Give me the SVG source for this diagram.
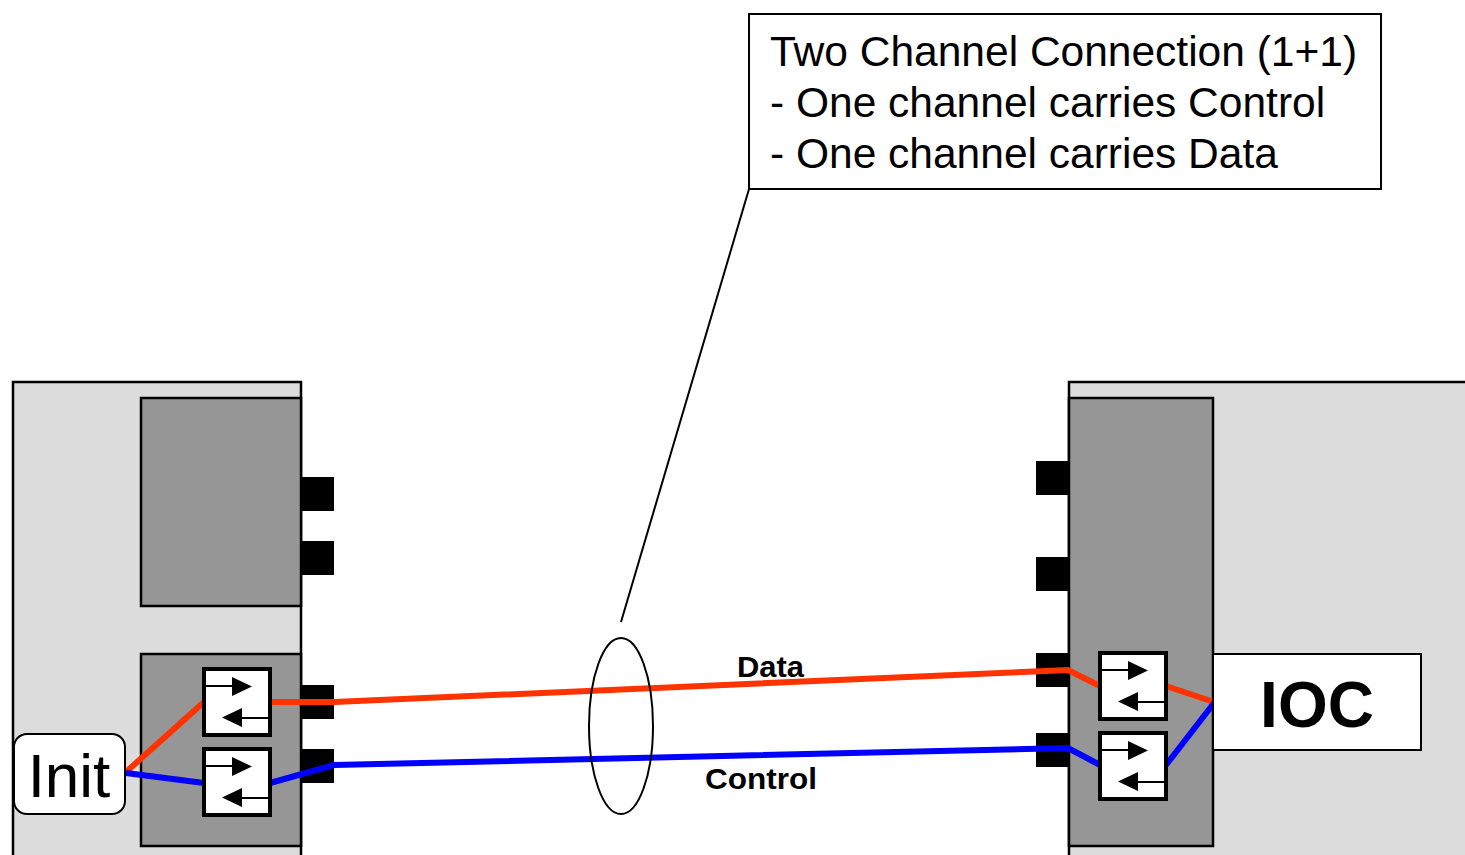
<svg xmlns="http://www.w3.org/2000/svg" width="1465" height="855" viewBox="0 0 1465 855">
  <style>
    .chassis { fill: #dcdcdc; stroke: #000; stroke-width: 2.5; }
    .card { fill: #969696; stroke: #000; stroke-width: 2.5; }
    .port { fill: #000; }
    .xcvr { fill: #fff; stroke: #000; stroke-width: 4; }
    .thin { stroke: #000; stroke-width: 2; fill: none; }
    .data { stroke: #ff3300; stroke-width: 6; fill: none; }
    .ctrl { stroke: #0000ff; stroke-width: 6; fill: none; }
    .label { font-family: "Liberation Sans", Arial, sans-serif; fill: #000; }
  </style>
  <defs>
    <!-- transceiver: square with transmit / receive arrows -->
    <g id="transceiver">
      <rect class="xcvr" x="0" y="0" width="66" height="66"/>
      <line x1="2" y1="17" x2="30" y2="17" stroke="#000" stroke-width="2"/>
      <polygon points="28,8 48,17.5 28,27" fill="#000"/>
      <line x1="36" y1="49" x2="64" y2="49" stroke="#000" stroke-width="2"/>
      <polygon points="38,39 18,48.5 38,58" fill="#000"/>
    </g>
  </defs>

  <rect width="1465" height="855" fill="#fff"/>

  <!-- left chassis -->
  <g id="left-chassis">
    <rect class="chassis" x="13" y="382" width="288" height="490"/>
    <rect class="card" x="141" y="398" width="160" height="208"/>
    <rect class="port" x="301" y="477" width="33" height="34"/>
    <rect class="port" x="301" y="541" width="33" height="34"/>
    <rect class="card" x="141" y="654" width="160" height="192"/>
    <rect class="port" x="301" y="685" width="33" height="34"/>
    <rect class="port" x="301" y="749" width="33" height="34"/>
  </g>

  <!-- right chassis -->
  <g id="right-chassis">
    <rect class="chassis" x="1069" y="382" width="420" height="490"/>
    <rect class="card" x="1069" y="398" width="144" height="448"/>
    <rect class="port" x="1036" y="461" width="33" height="34"/>
    <rect class="port" x="1036" y="557" width="33" height="34"/>
    <rect class="port" x="1036" y="653" width="33" height="34"/>
    <rect class="port" x="1036" y="733" width="33" height="34"/>
  </g>

  <!-- channel connectors -->
  <g id="connectors">
    <polyline class="data" points="126,772 204,702"/>
    <polyline class="data" points="270,702 334,702 1068,670 1100,686"/>
    <polyline class="data" points="1166,686 1214,702"/>
    <polyline class="ctrl" points="126,773 204,783"/>
    <polyline class="ctrl" points="270,783 334,765 1068,748 1100,765"/>
    <polyline class="ctrl" points="1166,765 1214,703"/>
    <line class="thin" x1="749" y1="189" x2="621" y2="622"/>
    <ellipse class="thin" cx="621" cy="726" rx="32" ry="88"/>
  </g>

  <g id="xcvr-left-data"><use href="#transceiver" x="204" y="669"/></g>
  <g id="xcvr-left-ctrl"><use href="#transceiver" x="204" y="749"/></g>
  <g id="xcvr-right-data"><use href="#transceiver" x="1100" y="653"/></g>
  <g id="xcvr-right-ctrl"><use href="#transceiver" x="1100" y="733"/></g>

  <g id="init">
    <rect x="14" y="734" width="111" height="80" rx="13" fill="#fff" stroke="#000" stroke-width="2"/>
    <text class="label" x="69" y="797" font-size="62" text-anchor="middle">Init</text>
  </g>

  <g id="ioc">
    <rect x="1213" y="654" width="208" height="96" fill="#fff" stroke="#000" stroke-width="2"/>
    <text class="label" x="1317" y="727" font-size="64" font-weight="bold" text-anchor="middle">IOC</text>
  </g>

  <g id="channel-labels">
    <text class="label" x="737" y="677" font-size="30" font-weight="bold" textLength="67" lengthAdjust="spacingAndGlyphs">Data</text>
    <text class="label" x="705" y="789" font-size="30" font-weight="bold" textLength="112" lengthAdjust="spacingAndGlyphs">Control</text>
  </g>

  <g id="callout">
    <rect x="749" y="14" width="632" height="175" fill="#fff" stroke="#000" stroke-width="2"/>
    <text class="label" x="770" y="66" font-size="42.5">Two Channel Connection (1+1)</text>
    <text class="label" x="770" y="117" font-size="42.5">- One channel carries Control</text>
    <text class="label" x="770" y="168" font-size="42.5">- One channel carries Data</text>
  </g>
</svg>
